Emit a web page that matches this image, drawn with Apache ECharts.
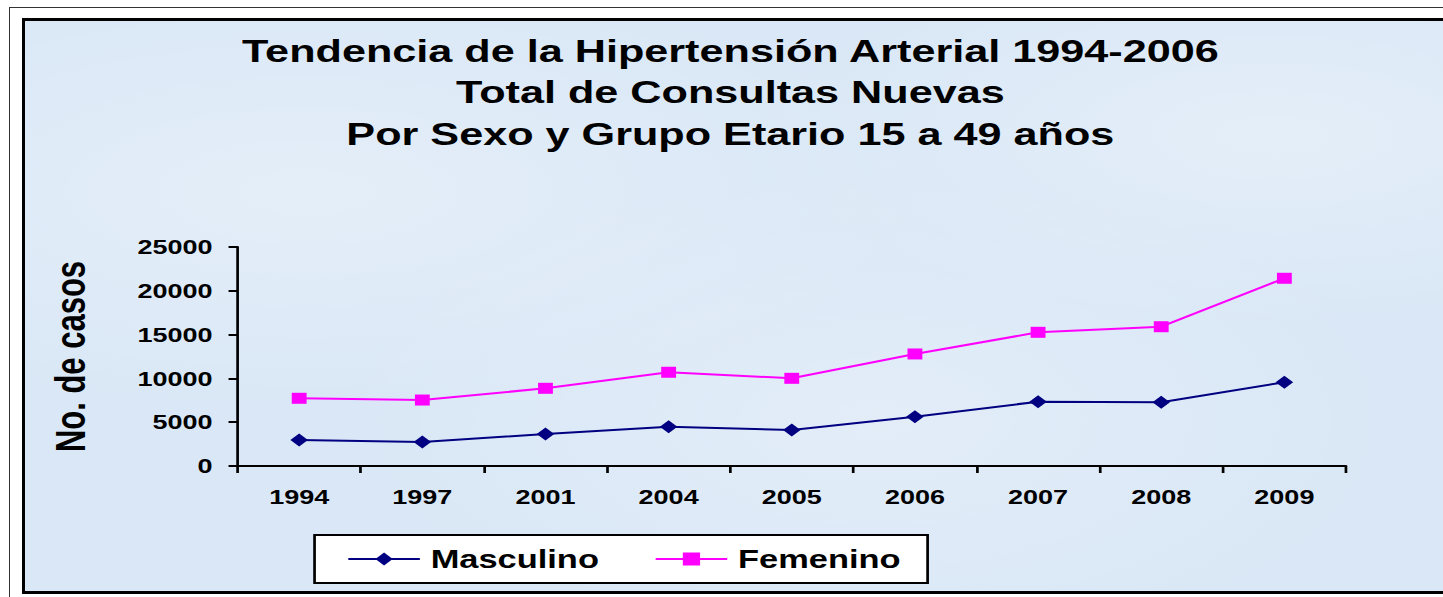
<!DOCTYPE html>
<html>
<head>
<meta charset="utf-8">
<script src="https://cdn.jsdelivr.net/npm/echarts@6/dist/echarts.min.js"></script>
<style>
  html, body { margin: 0; padding: 0; background: #fff; overflow: hidden; width: 1443px; height: 597px; }
  #outer { position: absolute; left: 9px; top: 7px; width: 1434px; height: 590px; border-top: 1.5px solid #333; border-left: 1.5px solid #333; box-sizing: border-box; }
  #panel { position: absolute; left: 22px; top: 18px; width: 1421px; height: 576px; border-top: 3px solid #000; border-left: 3px solid #000; border-bottom: 3px solid #000; box-sizing: border-box;
           background: #d9e7f6;
           background-image: radial-gradient(ellipse at 20% 30%, rgba(255,255,255,0.3), rgba(255,255,255,0) 40%),
                             radial-gradient(ellipse at 60% 70%, rgba(255,255,255,0.25), rgba(255,255,255,0) 45%),
                             radial-gradient(ellipse at 88% 20%, rgba(255,255,255,0.3), rgba(255,255,255,0) 30%); }
  #chart { position: absolute; left: 0; top: 0; width: 1069px; height: 597px; transform: scaleX(1.35); transform-origin: 0 0; }
</style>
</head>
<body>
<div id="outer"></div>
<div id="panel"></div>
<div id="chart"></div>
<script>
var years = ['1994', '1997', '2001', '2004', '2005', '2006', '2007', '2008', '2009'];
var masculino = [2970, 2740, 3650, 4490, 4110, 5630, 7340, 7270, 9560];
var femenino = [7730, 7530, 8870, 10700, 10010, 12790, 15260, 15900, 21430];

var font = 'Arial, "Liberation Sans", sans-serif';

var myChart = echarts.init(document.getElementById('chart'), null, { renderer: 'svg' });

myChart.setOption({
    animation: false,
    title: {
        text: 'Tendencia de la Hipertensión Arterial 1994-2006\nTotal de Consultas Nuevas\nPor Sexo y Grupo Etario 15 a 49 años',
        left: 541,
        top: 30,
        textAlign: 'center',
        padding: 0,
        textStyle: {
            fontFamily: font,
            fontWeight: 'bold',
            fontSize: 32,
            lineHeight: 41.5,
            color: '#000'
        }
    },
    legend: {
        left: 233,
        top: 535,
        padding: [11, 20, 11, 24],
        itemWidth: 53,
        itemHeight: 16,
        itemGap: 41,
        backgroundColor: '#fff',
        borderColor: '#000',
        borderWidth: 2,
        borderRadius: 0,
        textStyle: {
            fontFamily: font,
            fontWeight: 'bold',
            fontSize: 25.5,
            color: '#000',
            padding: [0, 0, 0, 3]
        },
        data: ['Masculino', 'Femenino']
    },
    grid: {
        left: 176,
        right: 72,
        top: 247,
        bottom: 131
    },
    xAxis: {
        type: 'category',
        data: years,
        boundaryGap: true,
        axisLine: { lineStyle: { color: '#000', width: 2 } },
        axisTick: { show: true, length: 7, lineStyle: { color: '#000', width: 2 } },
        axisLabel: {
            margin: 21,
            fontFamily: font,
            fontWeight: 'bold',
            fontSize: 20,
            color: '#000'
        },
        splitLine: { show: false }
    },
    yAxis: {
        type: 'value',
        min: 0,
        max: 25000,
        interval: 5000,
        name: 'No. de casos',
        nameLocation: 'middle',
        nameRotate: 90,
        nameGap: 108,
        nameTextStyle: {
            fontFamily: font,
            fontWeight: 'bold',
            fontSize: 31,
            color: '#000'
        },
        axisLine: { show: true, lineStyle: { color: '#000', width: 2 } },
        axisTick: { show: true, length: 6.7, lineStyle: { color: '#000', width: 2 } },
        axisLabel: {
            margin: 18.5,
            fontFamily: font,
            fontWeight: 'bold',
            fontSize: 20,
            color: '#000',
            formatter: function (v) { return String(v); }
        },
        splitLine: { show: false }
    },
    series: [
        {
            name: 'Masculino',
            type: 'line',
            data: masculino,
            symbol: 'diamond',
            symbolSize: 13,
            showAllSymbol: true,
            itemStyle: { color: '#000080' },
            lineStyle: { color: '#000080', width: 2 }
        },
        {
            name: 'Femenino',
            type: 'line',
            data: femenino,
            symbol: 'rect',
            symbolSize: 11,
            showAllSymbol: true,
            itemStyle: { color: '#ff00ff' },
            lineStyle: { color: '#ff00ff', width: 2 }
        }
    ]
});
</script>
</body>
</html>
